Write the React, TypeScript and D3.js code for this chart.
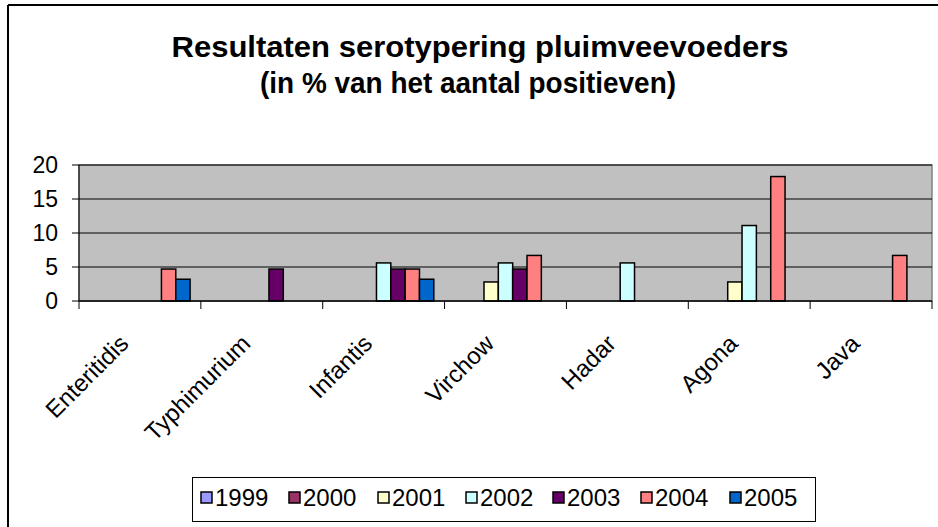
import React from "react";
import * as d3 from "d3";

const categories = ["Enteritidis", "Typhimurium", "Infantis", "Virchow", "Hadar", "Agona", "Java"];
const years = ["1999", "2000", "2001", "2002", "2003", "2004", "2005"];
const v1999: (number | null)[] = [null, null, null, null, null, null, null];
const v2000: (number | null)[] = [null, null, null, null, null, null, null];
const v2001: (number | null)[] = [null, null, null, 2.8, null, 2.8, null];
const v2002: (number | null)[] = [null, null, 5.6, 5.6, 5.6, 11.1, null];
const v2003: (number | null)[] = [null, 4.7, 4.7, 4.7, null, null, null];
const v2004: (number | null)[] = [4.7, null, 4.7, 6.7, null, 18.3, 6.7];
const v2005: (number | null)[] = [3.2, null, 3.2, null, null, null, null];
const yTicks = [0, 5, 10, 15, 20];
const colors = ["#9999FF", "#993366", "#FFFFCC", "#CCFFFF", "#660066", "#FF8080", "#0066CC"];
const title1 = "Resultaten serotypering pluimveevoeders";
const title2 = "(in % van het aantal positieven)";

const series = [v1999, v2000, v2001, v2002, v2003, v2004, v2005];

export default function App() {
  const W = 938, H = 527;
  const left = 79, right = 932, top = 165, bottom = 301;
  const x0 = d3.scaleBand<string>().domain(categories).range([left, right]).padding(0);
  const x1 = d3.scaleBand<string>().domain(years).range([0, x0.bandwidth()]).paddingInner(0).paddingOuter(0.75);
  const y = d3.scaleLinear().domain([0, 20]).range([bottom, top]);
  const font = "Arial, 'Liberation Sans', sans-serif";

  const legendX = [201, 289, 378, 466, 553, 641, 730];

  return (
    <svg width={W} height={H} style={{ position: "absolute", left: 0, top: 0, display: "block" }} fontFamily={font}>
      <rect x={0} y={0} width={W} height={H} fill="#fff" />
      {/* outer border */}
      <line x1={8} y1={5} x2={W + 2} y2={5} stroke="#000" strokeWidth={2} />
      <line x1={8} y1={5} x2={8} y2={H + 2} stroke="#000" strokeWidth={2} />

      {/* title */}
      <text x={480} y={57} textAnchor="middle" fontWeight="bold" fontSize={30} textLength={617} lengthAdjust="spacingAndGlyphs">{title1}</text>
      <text x={468} y={93} textAnchor="middle" fontWeight="bold" fontSize={30} textLength={416} lengthAdjust="spacingAndGlyphs">{title2}</text>

      {/* plot area */}
      <rect x={left} y={top} width={right - left} height={bottom - top} fill="#C0C0C0" stroke="#808080" strokeWidth={1.5} />
      {yTicks.filter(t => t > 0).map(t => (
        <line key={t} x1={left} x2={right} y1={y(t)} y2={y(t)} stroke="#000" strokeWidth={1} />
      ))}

      {/* bars */}
      {series.map((vals, si) =>
        vals.map((v, ci) =>
          v == null ? null : (
            <rect
              key={`${si}-${ci}`}
              x={(x0(categories[ci]) as number) + (x1(years[si]) as number)}
              y={y(v)}
              width={x1.bandwidth()}
              height={y(0) - y(v)}
              fill={colors[si]}
              stroke="#000"
              strokeWidth={1.5}
            />
          )
        )
      )}

      {/* y axis */}
      <line x1={left} x2={left} y1={top} y2={bottom} stroke="#000" strokeWidth={1} />
      {yTicks.map(t => (
        <g key={t}>
          <line x1={left - 7} x2={left} y1={y(t)} y2={y(t)} stroke="#000" strokeWidth={1} />
          <text x={58} y={y(t)} dy="0.36em" textAnchor="end" fontSize={23}>{t}</text>
        </g>
      ))}

      {/* x axis */}
      <line x1={left} x2={right} y1={bottom} y2={bottom} stroke="#000" strokeWidth={1.5} />
      {[...categories.map(c => x0(c) as number), right].map((xv, i) => (
        <line key={i} x1={xv} x2={xv} y1={bottom} y2={bottom + 8} stroke="#000" strokeWidth={1} />
      ))}
      {categories.map(c => {
        const cx = (x0(c) as number) + x0.bandwidth() / 2;
        return (
          <text key={c} transform={`translate(${cx - 10},${345}) rotate(-45)`} textAnchor="end" fontSize={24}>{c}</text>
        );
      })}

      {/* legend */}
      <rect x={192.5} y={477.5} width={623} height={44} fill="#fff" stroke="#000" strokeWidth={1} />
      {years.map((yr, i) => (
        <g key={yr}>
          <rect x={legendX[i]} y={492} width={11} height={11} fill={colors[i]} stroke="#000" strokeWidth={1.5} />
          <text x={legendX[i] + 14} y={506} fontSize={24}>{yr}</text>
        </g>
      ))}
    </svg>
  );
}
